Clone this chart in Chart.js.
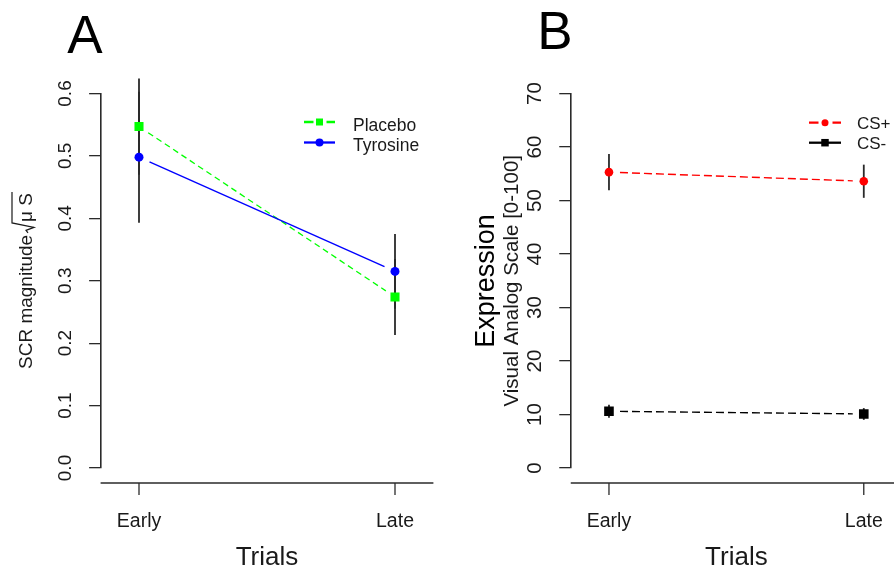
<!DOCTYPE html>
<html><head><meta charset="utf-8">
<script src="https://cdn.jsdelivr.net/npm/chart.js@4.4.1/dist/chart.umd.min.js"></script>
<style>
html,body{margin:0;padding:0;background:#fff;overflow:hidden;width:894px;height:569px;}
#wrapA{position:absolute;left:0;top:0;width:450px;height:569px;}
#wrapB{position:absolute;left:450px;top:0;width:460px;height:569px;}
canvas{display:block;}
</style></head><body>
<div id="wrapA"><canvas id="cA" width="450" height="569"></canvas></div>
<div id="wrapB"><canvas id="cB" width="460" height="569"></canvas></div>
<script>
// ---------- data ----------
const trials = ['Early', 'Late'];
const trialPos = [1, 2];
// Panel A: SCR magnitude
const placeboMean = [0.547, 0.274];
const placeboErr = [0.077, 0.061];
const tyrosineMean = [0.498, 0.315];
const tyrosineErr = [0.105, 0.060];
const yTicksA = [0.0, 0.1, 0.2, 0.3, 0.4, 0.5, 0.6];
// Panel B: Expression (VAS)
const csPlusMean = [55.3, 53.6];
const csPlusErr = [3.4, 3.1];
const csMinusMean = [10.6, 10.1];
const csMinusErr = [1.2, 1.1];
const yTicksB = [0, 10, 20, 30, 40, 50, 60, 70];

const FF = '"Liberation Sans", Arial, sans-serif';
const INK = '#1a1a1a';
const AX = '#2a2a2a';

function pts(means) { return means.map((v, i) => ({x: trialPos[i], y: v})); }

function rPlugin(cfg) {
  return {
    id: 'rstyle',
    beforeDatasetsDraw(chart) {
      const ctx = chart.ctx, xs = chart.scales.x, ys = chart.scales.y;
      chart.data.datasets.forEach((ds, k) => {
        const st = cfg.series[k];
        const p = ds.data.map(d => ({x: xs.getPixelForValue(d.x), y: ys.getPixelForValue(d.y)}));
        ctx.save();
        ctx.strokeStyle = st.color; ctx.lineWidth = st.width; ctx.setLineDash(st.dash);
        for (let i = 0; i < p.length - 1; i++) {
          const a = p[i], b = p[i + 1];
          const dx = b.x - a.x, dy = b.y - a.y, L = Math.hypot(dx, dy);
          const ux = dx / L, uy = dy / L, g = st.gap;
          ctx.beginPath(); ctx.moveTo(a.x + ux * g, a.y + uy * g); ctx.lineTo(b.x - ux * g, b.y - uy * g); ctx.stroke();
        }
        ctx.restore();
      });
      chart.data.datasets.forEach((ds, k) => {
        const err = cfg.series[k].err;
        ctx.save(); ctx.strokeStyle = AX; ctx.lineWidth = cfg.errW;
        ds.data.forEach((d, i) => {
          const x = xs.getPixelForValue(d.x);
          ctx.beginPath();
          ctx.moveTo(x, ys.getPixelForValue(d.y - err[i]));
          ctx.lineTo(x, ys.getPixelForValue(d.y + err[i]));
          ctx.stroke();
        });
        ctx.restore();
      });
    },
    afterDraw(chart) {
      const ctx = chart.ctx, xs = chart.scales.x, ca = chart.chartArea;
      // R-style detached x axis
      const y0 = ca.bottom + 15;
      ctx.save();
      ctx.strokeStyle = AX; ctx.lineWidth = 1.6;
      ctx.beginPath(); ctx.moveTo(ca.left, y0); ctx.lineTo(ca.right, y0); ctx.stroke();
      ctx.lineWidth = 1.3;
      trialPos.forEach(v => {
        const x = xs.getPixelForValue(v);
        ctx.beginPath(); ctx.moveTo(x, y0); ctx.lineTo(x, y0 + 12); ctx.stroke();
      });
      ctx.restore();
      // legend
      const lg = cfg.legend;
      lg.items.forEach((it, i) => {
        const y = lg.y[i];
        ctx.save();
        ctx.strokeStyle = it.color; ctx.fillStyle = it.color; ctx.lineWidth = 2.3;
        ctx.beginPath();
        if (it.dashed) {
          ctx.moveTo(lg.x0, y); ctx.lineTo(lg.x0 + 9.5, y);
          ctx.moveTo(lg.x1 - 8.5, y); ctx.lineTo(lg.x1, y);
        } else { ctx.moveTo(lg.x0, y); ctx.lineTo(lg.x1, y); }
        ctx.stroke();
        const xm = (lg.x0 + lg.x1) / 2;
        ctx.beginPath();
        if (it.shape === 'rect') ctx.rect(xm - it.size / 2, y - it.size / 2, it.size, it.size);
        else ctx.arc(xm, y, it.size / 2, 0, Math.PI * 2);
        ctx.fill();
        ctx.fillStyle = INK; ctx.font = lg.font + 'px ' + FF;
        ctx.textAlign = 'left'; ctx.textBaseline = 'alphabetic';
        ctx.fillText(it.label, lg.tx, y + lg.dy);
        ctx.restore();
      });
      // panel letter
      ctx.save();
      ctx.fillStyle = '#000'; ctx.font = '53px ' + FF; ctx.textAlign = 'center'; ctx.textBaseline = 'alphabetic';
      ctx.fillText(cfg.letter.text, cfg.letter.x, cfg.letter.y);
      ctx.restore();
      if (cfg.extra) cfg.extra(ctx, chart);
    }
  };
}

function baseOptions(o) {
  return {
    responsive: false, animation: false, events: [],
    layout: {padding: {top: 93.5, right: o.padRight, left: 0, bottom: 0}},
    plugins: {legend: {display: false}, tooltip: {enabled: false}, title: {display: false}},
    scales: {
      x: {
        type: 'linear', min: 0.85, max: 2.15, bounds: 'data',
        afterBuildTicks: s => { s.ticks = trialPos.map(v => ({value: v})); },
        afterFit: s => { s.height = 101; s.paddingLeft = 0; s.paddingRight = 0; s.paddingTop = 0; s.paddingBottom = 0; },
        grid: {display: false, drawTicks: false}, border: {display: false},
        ticks: {color: INK, font: {family: FF, size: 19.5}, padding: 42.3, maxRotation: 0, minRotation: 0, autoSkip: false,
          callback: v => trials[trialPos.indexOf(v)]},
        title: {display: true, text: 'Trials', color: INK, font: {family: FF, size: 26, lineHeight: 0.92}, padding: {top: 0, bottom: -1}}
      },
      y: {
        type: 'linear', min: o.ymin, max: o.ymax, bounds: 'data',
        afterBuildTicks: s => { s.ticks = o.yTicks.map(v => ({value: v})); },
        afterFit: s => { s.width = o.yWidth; s.paddingTop = 0; s.paddingBottom = 0; s.paddingLeft = 0; s.paddingRight = 0; },
        grid: {display: true, drawOnChartArea: false, drawTicks: true, tickLength: 11.5, color: AX, lineWidth: 1.3},
        border: {display: true, color: AX, width: 1.6},
        ticks: {color: INK, font: {family: FF, size: o.tickSize}, padding: o.tickPad, minRotation: 90, maxRotation: 90,
          crossAlign: 'center', autoSkip: false, callback: o.fmt},
        title: o.yTitle
      }
    }
  };
}

// ---------- Panel A ----------
new Chart(document.getElementById('cA'), {
  type: 'line',
  data: {datasets: [
    {label: 'Placebo', data: pts(placeboMean), showLine: false, pointStyle: 'rect', pointRadius: 6.4,
      pointBackgroundColor: '#00ff00', pointBorderWidth: 0},
    {label: 'Tyrosine', data: pts(tyrosineMean), showLine: false, pointStyle: 'circle', pointRadius: 4.5,
      pointBackgroundColor: '#0000ff', pointBorderWidth: 0}
  ]},
  options: baseOptions({padRight: 16.6, ymin: 0, ymax: 0.6, yTicks: yTicksA, yWidth: 100.6, tickSize: 19, tickPad: 9.9,
    fmt: v => v.toFixed(1), yTitle: {display: false}}),
  plugins: [rPlugin({
    errW: 1.8,
    series: [
      {color: '#00ff00', width: 1.3, dash: [6, 4], gap: 11, err: placeboErr},
      {color: '#0000ff', width: 1.4, dash: [], gap: 11.5, err: tyrosineErr}
    ],
    legend: {x0: 304, x1: 335, y: [122, 142.5], tx: 353, dy: 8.5, font: 17.5, items: [
      {label: 'Placebo', color: '#00ff00', dashed: true, shape: 'rect', size: 7},
      {label: 'Tyrosine', color: '#0000ff', dashed: false, shape: 'circle', size: 8}
    ]},
    letter: {text: 'A', x: 85, y: 52.5},
    extra: (ctx) => {
      ctx.save();
      ctx.translate(27, 281); ctx.rotate(-Math.PI / 2);
      ctx.font = '19px ' + FF; ctx.fillStyle = INK; ctx.textBaseline = 'middle'; ctx.textAlign = 'left';
      const t1 = 'SCR magnitude', t3 = '\u03BC S';
      const w1 = ctx.measureText(t1).width, w3 = ctx.measureText(t3).width, wr = 13;
      let u = -(w1 + wr + w3) / 2;
      ctx.fillText(t1, u, 0);
      const u1 = u + w1 + wr;
      ctx.fillText(t3, u1, 0);
      ctx.strokeStyle = INK; ctx.lineWidth = 1.2;
      ctx.beginPath();
      ctx.moveTo(u1 - 11, 1); ctx.lineTo(u1 - 8.5, -1); ctx.lineTo(u1 - 5.5, 7);
      ctx.lineTo(u1 - 1, -15); ctx.lineTo(u1 + w3 + 1, -15);
      ctx.stroke();
      ctx.restore();
    }
  })]
});

// ---------- Panel B ----------
new Chart(document.getElementById('cB'), {
  type: 'line',
  data: {datasets: [
    {label: 'CS+', data: pts(csPlusMean), showLine: false, pointStyle: 'circle', pointRadius: 4.3,
      pointBackgroundColor: '#ff0000', pointBorderWidth: 0},
    {label: 'CS-', data: pts(csMinusMean), showLine: false, pointStyle: 'rect', pointRadius: 6.8,
      pointBackgroundColor: '#000000', pointBorderWidth: 0}
  ]},
  options: baseOptions({padRight: 8, ymin: 0, ymax: 70, yTicks: yTicksB, yWidth: 120.75, tickSize: 20.5, tickPad: 12.85,
    fmt: v => String(v),
    yTitle: {display: true, text: 'Visual Analog Scale [0-100]', color: INK, font: {family: FF, size: 20.5, lineHeight: 1.2},
      padding: {top: 49.7, bottom: 0}}}),
  plugins: [rPlugin({
    errW: 1.8,
    series: [
      {color: '#ff0000', width: 1.4, dash: [8, 4], gap: 11, err: csPlusErr},
      {color: '#000000', width: 1.4, dash: [8, 4], gap: 11, err: csMinusErr}
    ],
    legend: {x0: 359, x1: 391, y: [122.7, 142.7], tx: 407, dy: 5.8, font: 17, items: [
      {label: 'CS+', color: '#ff0000', dashed: true, shape: 'circle', size: 7},
      {label: 'CS-', color: '#000000', dashed: false, shape: 'rect', size: 7.5}
    ]},
    letter: {text: 'B', x: 105, y: 48.5},
    extra: (ctx) => {
      ctx.save();
      ctx.translate(37, 281); ctx.rotate(-Math.PI / 2);
      ctx.font = '27px ' + FF; ctx.fillStyle = '#000'; ctx.textBaseline = 'middle'; ctx.textAlign = 'center';
      ctx.fillText('Expression', 0, 0);
      ctx.restore();
    }
  })]
});
</script>
</body></html>
